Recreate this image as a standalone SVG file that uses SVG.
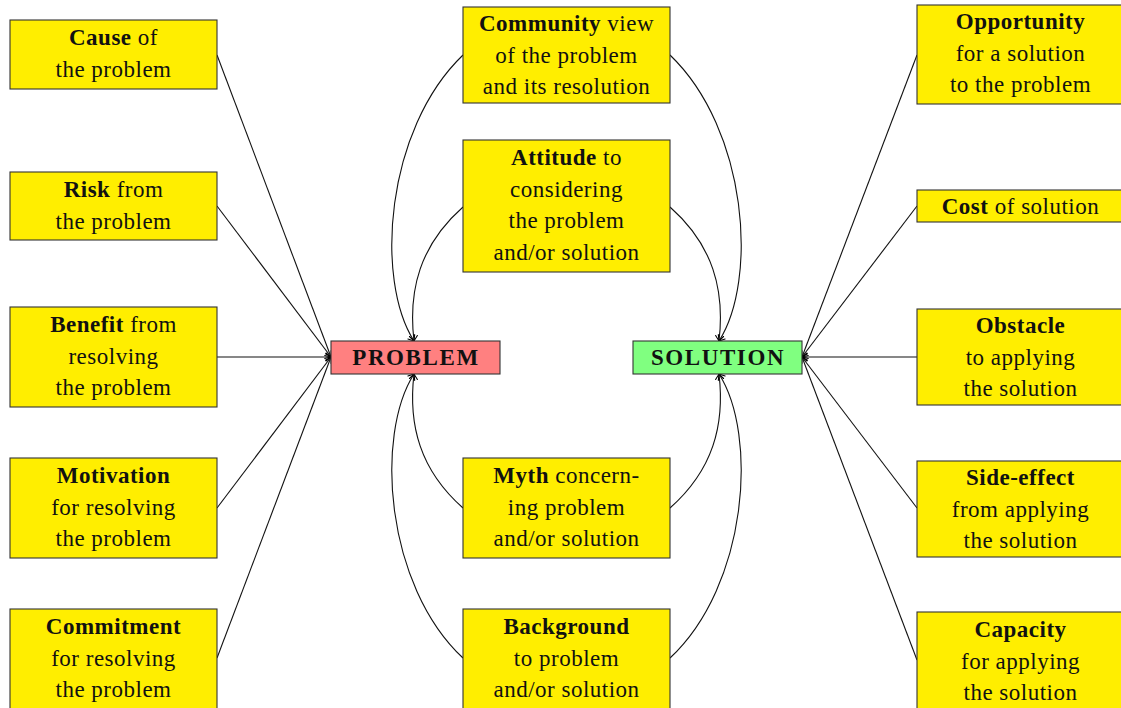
<svg xmlns="http://www.w3.org/2000/svg" width="1121" height="708" viewBox="0 0 1121 708">
<defs>
<marker id="arr" markerUnits="userSpaceOnUse" markerWidth="14" markerHeight="14" refX="0" refY="0" viewBox="-8 -7 10 14" orient="auto" overflow="visible">
<path d="M -5,-4 Q -1.5,-1.2 0,0 Q -1.5,1.2 -5,4" fill="none" stroke="#000" stroke-width="1.1" stroke-linecap="round"/>
</marker>
<style>
.box{fill:#FFEE00;stroke:#333;stroke-width:1.1}
.prob{fill:#FF8080;stroke:#333;stroke-width:1.1}
.sol{fill:#80FF80;stroke:#333;stroke-width:1.1}
text{font-family:"Liberation Serif","Times New Roman",serif;font-size:23px;letter-spacing:0.5px;fill:#111;text-anchor:middle}
.b{font-weight:bold}
.big{font-weight:bold;font-size:23px;letter-spacing:1.6px}
.e{fill:none;stroke:#111;stroke-width:1.1;marker-end:url(#arr)}
</style>
</defs>
<rect width="1121" height="708" fill="#fff"/>
<g id="connectors">
<path class="e" d="M217,55 L331,357"/>
<path class="e" d="M217,206 L331,357"/>
<path class="e" d="M217,357 L331,357"/>
<path class="e" d="M217,508 L331,357"/>
<path class="e" d="M217,658 L331,357"/>
<path class="e" d="M917,55 L802,357"/>
<path class="e" d="M917,206 L802,357"/>
<path class="e" d="M917,357 L802,357"/>
<path class="e" d="M917,508 L802,357"/>
<path class="e" d="M917,660 L802,357"/>
<path class="e" d="M463,55 C385,130 375,280 414,341"/>
<path class="e" d="M463,207 C420,245 408,290 414,341"/>
<path class="e" d="M463,508 C420,470 408,425 414,374"/>
<path class="e" d="M463,658 C385,585 375,435 414,374"/>
<path class="e" d="M670,55 C748,130 758,280 719,341"/>
<path class="e" d="M670,207 C713,245 725,290 719,341"/>
<path class="e" d="M670,508 C713,470 725,425 719,374"/>
<path class="e" d="M670,658 C748,585 758,435 719,374"/>
</g>
<g id="problem"><rect class="prob" x="331" y="341" width="169" height="33"/><text class="big" x="416" y="365">PROBLEM</text></g>
<g id="solution"><rect class="sol" x="633" y="341" width="169" height="33"/><text class="big" x="718" y="365">SOLUTION</text></g>
<g id="cause"><rect class="box" x="10" y="20" width="207" height="69"/><text x="113.5" y="45"><tspan class="b">Cause</tspan> of</text><text x="113.5" y="76.5">the problem</text></g>
<g id="risk"><rect class="box" x="10" y="172" width="207" height="68"/><text x="113.5" y="197"><tspan class="b">Risk</tspan> from</text><text x="113.5" y="228.5">the problem</text></g>
<g id="benefit"><rect class="box" x="10" y="307" width="207" height="100"/><text x="113.5" y="332"><tspan class="b">Benefit</tspan> from</text><text x="113.5" y="363.5">resolving</text><text x="113.5" y="395">the problem</text></g>
<g id="motivation"><rect class="box" x="10" y="458" width="207" height="100"/><text x="113.5" y="483" class="b">Motivation</text><text x="113.5" y="514.5">for resolving</text><text x="113.5" y="546">the problem</text></g>
<g id="commitment"><rect class="box" x="10" y="609" width="207" height="100"/><text x="113.5" y="634" class="b">Commitment</text><text x="113.5" y="665.5">for resolving</text><text x="113.5" y="697">the problem</text></g>
<g id="community"><rect class="box" x="463" y="7" width="207" height="96"/><text x="566.5" y="31"><tspan class="b">Community</tspan> view</text><text x="566.5" y="62.5">of the problem</text><text x="566.5" y="94">and its resolution</text></g>
<g id="attitude"><rect class="box" x="463" y="140" width="207" height="132"/><text x="566.5" y="165"><tspan class="b">Attitude</tspan> to</text><text x="566.5" y="196.5">considering</text><text x="566.5" y="228">the problem</text><text x="566.5" y="259.5">and/or solution</text></g>
<g id="myth"><rect class="box" x="463" y="458" width="207" height="100"/><text x="566.5" y="483"><tspan class="b">Myth</tspan> concern-</text><text x="566.5" y="514.5">ing problem</text><text x="566.5" y="546">and/or solution</text></g>
<g id="background"><rect class="box" x="463" y="609" width="207" height="100"/><text x="566.5" y="634" class="b">Background</text><text x="566.5" y="665.5">to problem</text><text x="566.5" y="697">and/or solution</text></g>
<g id="opportunity"><rect class="box" x="917" y="5" width="207" height="99"/><text x="1020.5" y="29" class="b">Opportunity</text><text x="1020.5" y="60.5">for a solution</text><text x="1020.5" y="92">to the problem</text></g>
<g id="cost"><rect class="box" x="917" y="190" width="207" height="32"/><text x="1020.5" y="214"><tspan class="b">Cost</tspan> of solution</text></g>
<g id="obstacle"><rect class="box" x="917" y="309" width="207" height="96"/><text x="1020.5" y="333" class="b">Obstacle</text><text x="1020.5" y="364.5">to applying</text><text x="1020.5" y="396">the solution</text></g>
<g id="side-effect"><rect class="box" x="917" y="461" width="207" height="96"/><text x="1020.5" y="485" class="b">Side-effect</text><text x="1020.5" y="516.5">from applying</text><text x="1020.5" y="548">the solution</text></g>
<g id="capacity"><rect class="box" x="917" y="612" width="207" height="97"/><text x="1020.5" y="637" class="b">Capacity</text><text x="1020.5" y="668.5">for applying</text><text x="1020.5" y="700">the solution</text></g>
</svg>
